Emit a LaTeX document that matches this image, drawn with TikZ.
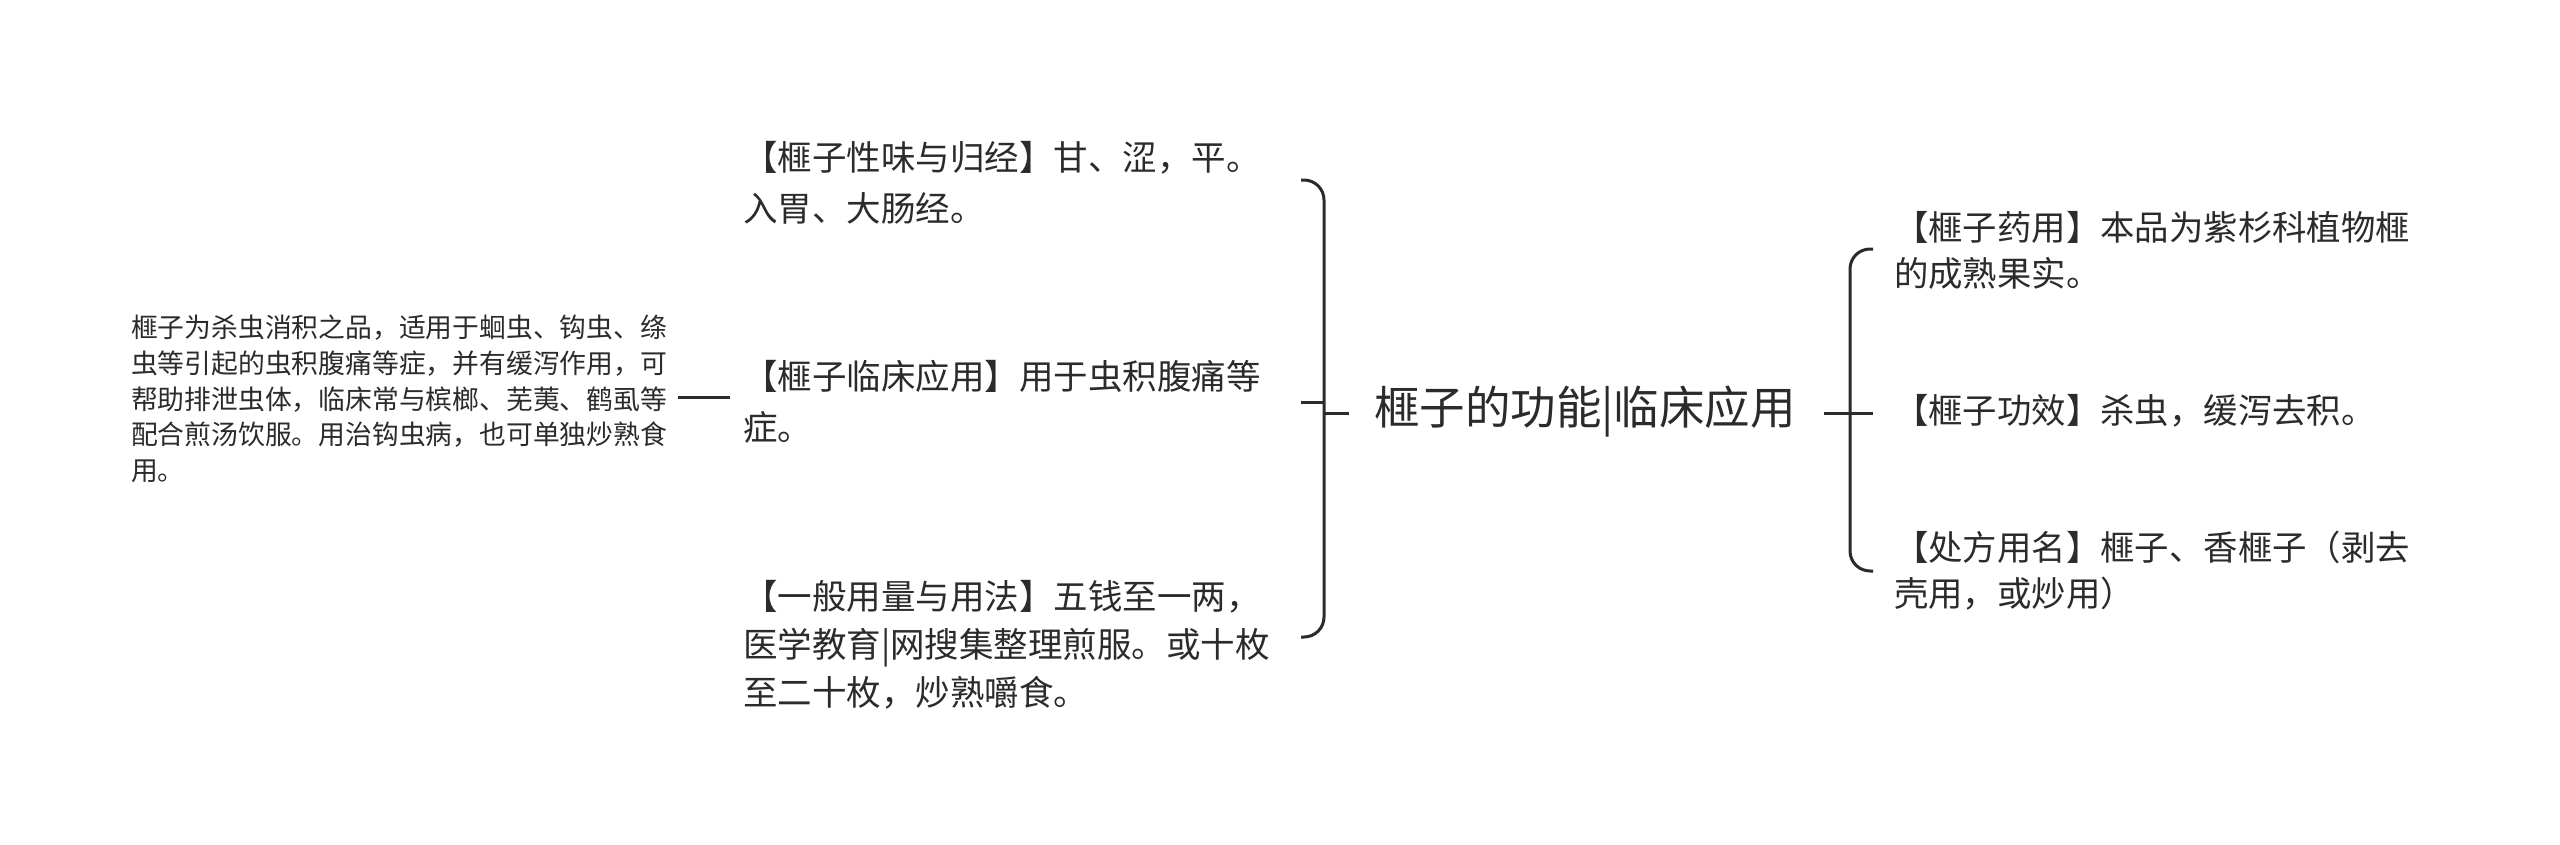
\documentclass[tikz,border=0pt]{standalone}
\usepackage{fontspec}
\setmainfont{Noto Sans CJK SC}
\begin{document}
\begin{tikzpicture}[x=1pt,y=-1pt]
\definecolor{tc}{HTML}{2B2B2B}
\definecolor{lc}{HTML}{2B2B2B}
\tikzset{
  txt/.style={anchor=west, inner sep=0pt, outer sep=0pt, align=left, text=tc},
  leftbox/.style={txt, font=\fontsize{26.8}{35.6}\selectfont},
  midbox/.style={txt, font=\fontsize{34.5}{51}\selectfont},
  midboxb/.style={txt, font=\fontsize{34.5}{48}\selectfont},
  rightbox/.style={txt, font=\fontsize{34.4}{46}\selectfont},
  centerbox/.style={txt, font=\fontsize{45.5}{50}\selectfont},
  conn/.style={draw=lc, line width=3pt},
  brace/.style={conn, rounded corners=20pt},
}
\fill[white] (0,0) rectangle (2560,844);
\useasboundingbox (0,0) rectangle (2560,844);

% nodes
\node[centerbox] (c) at (1374,412) {榧子的功能|临床应用};

\node[midbox] (m1) at (743,183) {【榧子性味与归经】甘、涩，平。\\入胃、大肠经。};
\node[midbox] (m2) at (743,402) {【榧子临床应用】用于虫积腹痛等\\症。};
\node[midboxb] (m3) at (743,645) {【一般用量与用法】五钱至一两，\\医学教育|网搜集整理煎服。或十枚\\至二十枚，炒熟嚼食。};

\node[leftbox] (l) at (131,399) {榧子为杀虫消积之品，适用于蛔虫、钩虫、绦\\虫等引起的虫积腹痛等症，并有缓泻作用，可\\帮助排泄虫体，临床常与槟榔、芜荑、鹤虱等\\配合煎汤饮服。用治钩虫病，也可单独炒熟食\\用。};

\node[rightbox] (r1) at (1894,250) {【榧子药用】本品为紫杉科植物榧\\的成熟果实。};
\node[rightbox] (r2) at (1894,411) {【榧子功效】杀虫，缓泻去积。};
\node[rightbox] (r3) at (1894,571) {【处方用名】榧子、香榧子（剥去\\壳用，或炒用）};

% left bracket coordinates
\coordinate (lbx1) at (1301,180);
\coordinate (lbx2) at (1301,402);
\coordinate (lbx3) at (1301,637);
\coordinate (lbv) at (1324,413);
\coordinate (lbv2) at (1324,402);
\coordinate (lbc) at (1349,413);

% right bracket coordinates
\coordinate (rbx1) at (1873,249);
\coordinate (rbx2) at (1873,413);
\coordinate (rbx3) at (1873,571);
\coordinate (rbv) at (1850,413);
\coordinate (rbc) at (1824,413);

% connectors
\draw[brace] (lbx1) -| (lbv) |- (lbx3);
\draw[conn] (lbx2) -- (lbv2);
\draw[conn] (lbv) -- (lbc);

\draw[brace] (rbx1) -| (rbv) |- (rbx3);
\draw[conn] (rbc) -- (rbx2);

\coordinate (ll1) at (678,397);
\coordinate (ll2) at (730,397);
\draw[conn] (ll1) -- (ll2);
\end{tikzpicture}
\end{document}
